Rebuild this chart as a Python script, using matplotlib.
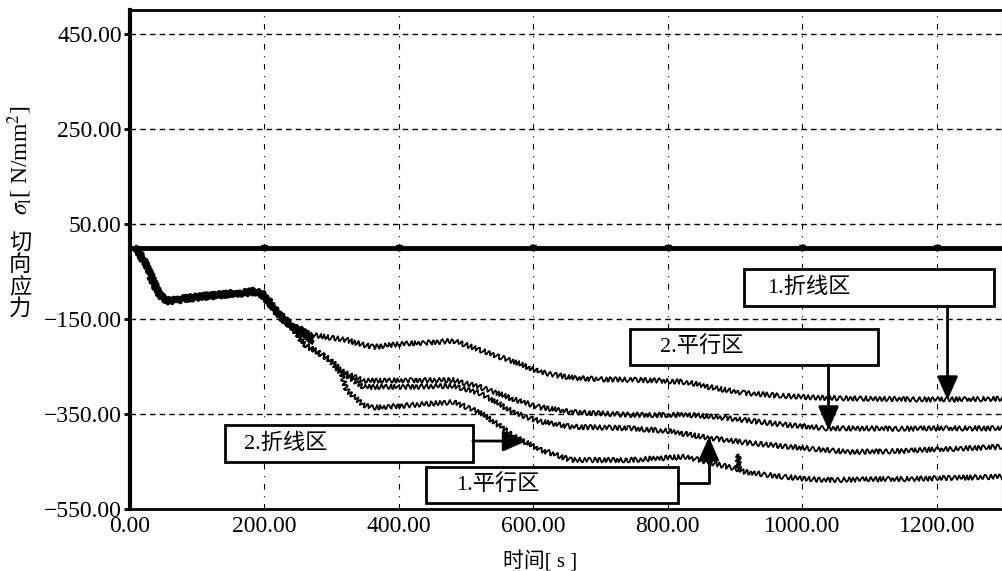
import matplotlib
matplotlib.use("Agg")
import matplotlib.pyplot as plt
from matplotlib.patches import Rectangle

plt.rcParams['font.family'] = ['Liberation Serif', 'Noto Sans CJK SC']
plt.rcParams['mathtext.fontset'] = 'stix'
plt.rcParams['axes.unicode_minus'] = True

# common start of all four curves (s, N/mm2)
t_common = [10, 25, 40, 49, 58, 80, 100, 130, 150, 170, 185, 198, 210, 225, 240]
v_common = [0, -40, -89, -106, -112, -108, -104, -100, -97, -95, -92, -99, -120, -145, -165]

# 1.折线区 (top)
t_a = [255, 272, 300, 322, 345, 362, 400, 440, 481, 500, 520, 545, 572, 610, 657,
       700, 743, 790, 828, 870, 914, 970, 1028, 1100, 1216, 1297]
v_a = [-175, -184, -190, -194, -204, -209, -203, -200, -196, -205, -215, -228, -240, -262, -274,
       -277, -278, -280, -283, -296, -306, -312, -316, -318, -320, -318]

# 2.平行区
t_b = [260, 278, 297, 317, 347, 380, 420, 481, 520, 545, 572, 610, 657, 743, 828,
       870, 914, 970, 1035, 1150, 1297]
v_b = [-205, -219, -236, -262, -280, -280, -279, -279, -293, -305, -320, -336, -346, -352, -352,
       -356, -363, -372, -380, -381, -380]

# 1.平行区
t_c = [260, 278, 297, 317, 347, 400, 481, 520, 545, 572, 610, 657, 743, 800, 850,
       914, 980, 1070, 1150, 1297]
v_c = [-205, -219, -236, -264, -293, -293, -291, -306, -325, -348, -366, -377, -380, -386, -398,
       -410, -419, -430, -428, -419]

# 2.折线区 (bottom)
t_d = [260, 278, 297, 314, 322, 347, 362, 421, 481, 520, 545, 572, 610, 657, 743,
       828, 870, 904, 905, 906, 914, 970, 1028, 1150, 1297]
v_d = [-205, -219, -236, -264, -299, -331, -337, -331, -325, -346, -370, -398, -425, -447, -447,
       -440, -455, -466, -435, -466, -472, -482, -489, -487, -482]

y_ticks = [450, 250, 50, -150, -350, -550]
x_ticks = [0, 200, 400, 600, 800, 1000, 1200]

fig = plt.figure(figsize=(10.02, 5.71), dpi=100)
ax = fig.add_axes([0.1297, 0.1086, 0.8703, 0.8739])

for t_s, v_s in [(t_a, v_a), (t_b, v_b), (t_c, v_c), (t_d, v_d)]:
    line, = ax.plot(t_common + t_s, v_common + v_s, color='black', lw=1.3, zorder=3)
    line.set_sketch_params(scale=2.4, length=5, randomness=2)

# thick bundle at the start
bundle, = ax.plot(t_common + [255, 272], v_common + [-175, -195], color='black', lw=3.5, zorder=3)
bundle.set_sketch_params(scale=2.5, length=4, randomness=2)

ax.axhline(0, color='black', lw=3.5, zorder=4)
ax.plot(x_ticks[1:], [0] * (len(x_ticks) - 1), 'v', color='black', ms=4, zorder=4)

ax.set_xlim(0, 1297)
ax.set_ylim(-550, 500)
ax.set_yticks(y_ticks)
ax.set_xticks(x_ticks)
ax.set_yticklabels([f"{v:.2f}".replace('-', '\u2212') for v in y_ticks], fontsize=17)
ax.set_xticklabels([f"{v:.2f}" for v in x_ticks], fontsize=17)
ax.tick_params(axis='y', length=4, width=2, direction='out', pad=2)
ax.tick_params(axis='x', length=0, pad=5)

for yv in y_ticks[:-1]:
    ax.axhline(yv, color='black', lw=1.0, ls=(0, (4, 3)), zorder=1)
for xv in x_ticks[1:]:
    ax.axvline(xv, color='black', lw=0.8, ls=(0, (5, 6, 1, 6)), zorder=1)

ax.spines['left'].set_linewidth(3)
ax.spines['bottom'].set_linewidth(2)
ax.spines['top'].set_linewidth(2)
ax.spines['right'].set_linewidth(0.8)

# annotation boxes (t0, t1, v0, v1), text, arrow
boxes = [
    ((914, 1285, -123, -45), "1.折线区", 947),
    ((743, 1112, -247, -171), "2.平行区", 788),
    ((141, 510, -451, -373), "2.折线区", 170),
    ((440, 815, -537, -462), "1.平行区", 485),
]
for (t0, t1, v0, v1), label, tx in boxes:
    ax.add_patch(Rectangle((t0, v0), t1 - t0, v1 - v0, facecolor='white',
                           edgecolor='black', lw=2, zorder=5))
    ax.text(tx, (v0 + v1) / 2, label, fontsize=16, va='center', ha='left', zorder=6)

arrow = dict(arrowstyle='-|>,head_length=0.8,head_width=0.35', color='black',
             lw=2, mutation_scale=18, shrinkA=0, shrinkB=0)
ax.annotate('', xy=(1216, -321), xytext=(1216, -123), arrowprops=arrow, zorder=6)
ax.annotate('', xy=(1039, -384), xytext=(1039, -247), arrowprops=arrow, zorder=6)
ax.annotate('', xy=(590, -407), xytext=(510, -407), arrowprops=arrow, zorder=6)
ax.annotate('', xy=(861, -398), xytext=(815, -495),
            arrowprops=dict(arrow, connectionstyle='angle,angleA=0,angleB=90,rad=0'), zorder=6)

fig.text(0.02, 0.72, r"$\sigma_{\mathrm{l}}$[ N/mm$^2$]", rotation=90, fontsize=17,
         ha='center', va='center', family='Liberation Serif')
fig.text(0.02, 0.518, "切\n向\n应\n力", fontsize=16, ha='center', va='center',
         linespacing=0.95, family=['Noto Sans CJK SC'])
fig.text(0.539, 0.016, "时间[ s ]", fontsize=15, ha='center', va='center')

fig.savefig("out.png", dpi=100)
